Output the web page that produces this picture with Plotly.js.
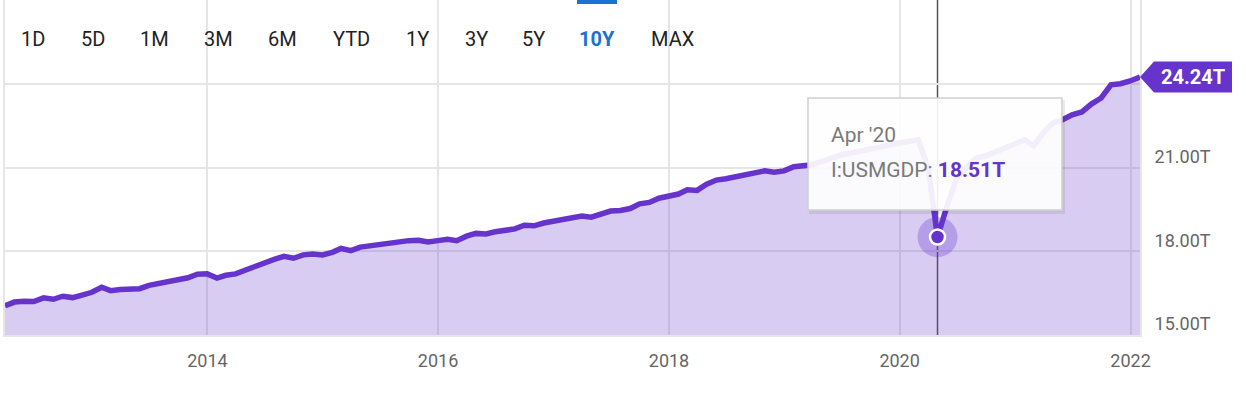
<!DOCTYPE html>
<html>
<head>
<meta charset="utf-8">
<script src="https://cdn.plot.ly/plotly-3.0.1.min.js"></script>
<style>
  html, body { margin: 0; padding: 0; background: #ffffff; }
  #chart { width: 1246px; height: 393px; }
</style>
</head>
<body>
<div id="chart"></div>
<script>
// Month-end dates, Mar 2012 .. Jan 2022
const dates = [
  "2012-03-31","2012-04-30","2012-05-31","2012-06-30","2012-07-31","2012-08-31","2012-09-30","2012-10-31","2012-11-30","2012-12-31",
  "2013-01-31","2013-02-28","2013-03-31","2013-04-30","2013-05-31","2013-06-30","2013-07-31","2013-08-31","2013-09-30","2013-10-31","2013-11-30","2013-12-31",
  "2014-01-31","2014-02-28","2014-03-31","2014-04-30","2014-05-31","2014-06-30","2014-07-31","2014-08-31","2014-09-30","2014-10-31","2014-11-30","2014-12-31",
  "2015-01-31","2015-02-28","2015-03-31","2015-04-30","2015-05-31","2015-06-30","2015-07-31","2015-08-31","2015-09-30","2015-10-31","2015-11-30","2015-12-31",
  "2016-01-31","2016-02-29","2016-03-31","2016-04-30","2016-05-31","2016-06-30","2016-07-31","2016-08-31","2016-09-30","2016-10-31","2016-11-30","2016-12-31",
  "2017-01-31","2017-02-28","2017-03-31","2017-04-30","2017-05-31","2017-06-30","2017-07-31","2017-08-31","2017-09-30","2017-10-31","2017-11-30","2017-12-31",
  "2018-01-31","2018-02-28","2018-03-31","2018-04-30","2018-05-31","2018-06-30","2018-07-31","2018-08-31","2018-09-30","2018-10-31","2018-11-30","2018-12-31",
  "2019-01-31","2019-02-28","2019-03-31","2019-04-30","2019-05-31","2019-06-30","2019-07-31","2019-08-31","2019-09-30","2019-10-31","2019-11-30","2019-12-31",
  "2020-01-31","2020-02-29","2020-03-31","2020-04-30","2020-05-31","2020-06-30","2020-07-31","2020-08-31","2020-09-30","2020-10-31","2020-11-30","2020-12-31",
  "2021-01-31","2021-02-28","2021-03-31","2021-04-30","2021-05-31","2021-06-30","2021-07-31","2021-08-31","2021-09-30","2021-10-31","2021-11-30","2021-12-31",
  "2022-01-31"
];

// I:USMGDP, trillions USD
const gdp = [
  16.05,16.18,16.21,16.20,16.33,16.28,16.39,16.34,16.43,16.53,
  16.71,16.59,16.63,16.65,16.66,16.78,16.84,16.92,16.95,17.05,17.18,17.19,
  17.04,17.14,17.19,17.33,17.45,17.58,17.71,17.82,17.75,17.87,17.90,17.87,
  17.96,18.10,18.02,18.15,18.20,18.26,18.29,18.32,18.38,18.39,18.33,18.38,
  18.43,18.38,18.54,18.64,18.62,18.70,18.73,18.80,18.93,18.91,19.01,19.08,
  19.12,19.17,19.26,19.22,19.31,19.44,19.46,19.53,19.70,19.75,19.90,20.00,
  20.05,20.20,20.18,20.40,20.55,20.60,20.66,20.72,20.78,20.88,20.83,20.88,
  21.03,21.08,21.10,21.22,21.35,21.45,21.52,21.58,21.66,21.74,21.80,21.88,
  21.93,21.99,21.02,18.51,19.65,20.63,21.02,21.34,21.42,21.56,21.67,21.81,
  21.99,21.77,22.24,22.60,22.71,22.89,22.99,23.28,23.49,23.96,24.00,24.10,
  24.24
];

const rangeButtons = ["1D","5D","1M","3M","6M","YTD","1Y","3Y","5Y","10Y","MAX"];
const activeButton = "10Y";
const yTickVals = [15, 18, 21, 24];
const yTickText = ["15.00T", "18.00T", "21.00T", ""];
const xTickVals = ["2014-01-01","2016-01-01","2018-01-01","2020-01-01","2022-01-01"];
const xTickText = ["2014","2016","2018","2020","2022"];
const seriesName = "I:USMGDP";
const hoverDate = "2020-04-30";
const hoverLabel = "Apr '20";

const PURPLE = "#6633cc";
const FONT = "Roboto, 'Open Sans', sans-serif";

// Plot geometry (pixels)
const W = 1246, H = 393;
const L = 5, R = 1140, T = 0, B = 335;
const pw = R - L, ph = B - T;
const px = v => (v - L) / pw;       // pixel x -> paper
const py = v => 1 - (v - T) / ph;   // pixel y -> paper

const hi = dates.indexOf(hoverDate);
const last = gdp.length - 1;

const traces = [
  {
    x: dates, y: gdp, type: "scatter", mode: "lines",
    line: { color: PURPLE, width: 5.5, shape: "linear" },
    fill: "tozeroy", fillcolor: "rgba(102,51,204,0.25)",
    hoverinfo: "skip", showlegend: false
  },
  {
    x: [dates[hi]], y: [gdp[hi]], type: "scatter", mode: "markers",
    marker: { size: 40, color: "rgba(102,51,204,0.30)" },
    hoverinfo: "skip", showlegend: false, cliponaxis: false
  },
  {
    x: [dates[hi]], y: [gdp[hi]], type: "scatter", mode: "markers",
    marker: { size: 15, color: PURPLE, line: { color: "#ffffff", width: 2.5 } },
    hoverinfo: "skip", showlegend: false, cliponaxis: false
  }
];

// Range-selector button positions (pixel centres)
const btnX = [33, 93, 154, 218, 282, 351, 417, 476, 533, 597, 673];
const annotations = rangeButtons.map((b, i) => ({
  xref: "paper", yref: "paper", x: px(btnX[i]), y: py(39),
  xanchor: "center", yanchor: "middle", showarrow: false,
  text: b === activeButton ? "<b>" + b + "</b>" : b,
  font: { family: FONT, size: 20, color: b === activeButton ? "#1a73d0" : "#222222" }
}));

// Tooltip texts
annotations.push({
  xref: "paper", yref: "paper", x: px(829), y: py(135),
  xanchor: "left", yanchor: "middle", showarrow: false,
  text: hoverLabel, font: { family: FONT, size: 21, color: "#7a7a7a" }
});
annotations.push({
  xref: "paper", yref: "paper", x: px(829), y: py(170),
  xanchor: "left", yanchor: "middle", showarrow: false,
  text: seriesName + ": <b><span style='color:" + PURPLE + "'>" + gdp[hi].toFixed(2) + "T</span></b>",
  font: { family: FONT, size: 21, color: "#7a7a7a" }
});
// Last value label text
annotations.push({
  xref: "paper", yref: "y", x: 1, y: gdp[last],
  xanchor: "center", yanchor: "middle", xshift: 53, showarrow: false,
  text: "<b>" + gdp[last].toFixed(2) + "T</b>",
  font: { family: FONT, size: 20, color: "#ffffff" }
});

const shapes = [
  // crosshair
  {
    type: "line", xref: "x", yref: "paper", x0: dates[hi], x1: dates[hi], y0: 0, y1: 1,
    line: { color: "#555555", width: 1.5 }, layer: "below"
  },
  // active button bar
  {
    type: "rect", xref: "paper", yref: "paper", x0: px(577), x1: px(617), y0: py(4), y1: py(0),
    fillcolor: "#1a73d0", line: { width: 0 }, layer: "above"
  },
  // tooltip shadow
  {
    type: "rect", xref: "paper", yref: "paper", x0: px(809), x1: px(1065), y0: py(214), y1: py(100),
    fillcolor: "rgba(0,0,0,0.08)", line: { width: 0 }, layer: "above"
  },
  // tooltip box
  {
    type: "rect", xref: "paper", yref: "paper", x0: px(808), x1: px(1062), y0: py(210), y1: py(98),
    fillcolor: "rgba(255,255,255,0.92)", line: { color: "#cfcfcf", width: 1.5 }, layer: "above"
  },
  // last value flag
  {
    type: "path", xref: "paper", yref: "y", xsizemode: "pixel", ysizemode: "pixel",
    xanchor: 1, yanchor: gdp[last],
    path: "M0,0 L14,15.5 L92,15.5 L92,-15.5 L14,-15.5 Z",
    fillcolor: PURPLE, line: { width: 0 }, layer: "above"
  }
];

const layout = {
  width: W, height: H,
  margin: { l: L, r: W - R, t: T, b: H - B, pad: 0 },
  paper_bgcolor: "#ffffff", plot_bgcolor: "#ffffff",
  showlegend: false,
  font: { family: FONT, color: "#666666" },
  xaxis: {
    type: "date", range: [dates[0], dates[last]],
    tickmode: "array", tickvals: xTickVals, ticktext: xTickText,
    showgrid: true, gridcolor: "#e6e6e6", gridwidth: 2,
    showline: true, linecolor: "#e6e6e6", linewidth: 2,
    zeroline: false, ticks: "", ticklabelstandoff: 8,
    tickfont: { family: FONT, size: 18, color: "#666666" },
    fixedrange: true
  },
  yaxis: {
    side: "right", range: [15, 27.0],
    tickmode: "array", tickvals: yTickVals, ticktext: yTickText,
    showgrid: true, gridcolor: "#e6e6e6", gridwidth: 2,
    showline: true, mirror: true, linecolor: "#e6e6e6", linewidth: 2,
    zeroline: false, ticks: "", ticklabelstandoff: 9, ticklabelshift: -11,
    tickfont: { family: FONT, size: 18, color: "#666666" },
    fixedrange: true
  },
  annotations: annotations,
  shapes: shapes,
  hovermode: false
};

Plotly.newPlot("chart", traces, layout, { displayModeBar: false, staticPlot: true });
</script>
</body>
</html>
